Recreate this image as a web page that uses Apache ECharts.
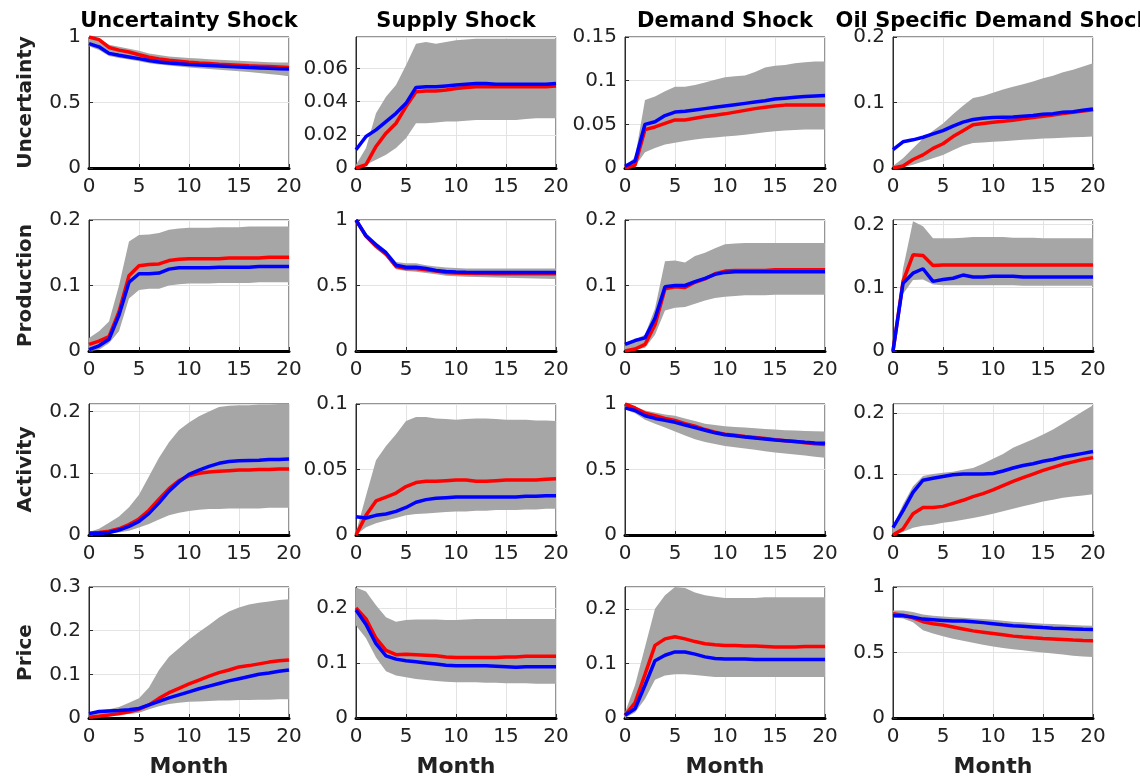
<!DOCTYPE html>
<html>
<head>
<meta charset="utf-8">
<script src="https://cdn.jsdelivr.net/npm/echarts@6/dist/echarts.min.js"></script>
<style>
  html, body { margin: 0; padding: 0; background: #fff; }
  #chart { width: 1140px; height: 782px; }
</style>
</head>
<body>
<div id="chart"></div>
<script>
// months on the x axis
const months = [0,1,2,3,4,5,6,7,8,9,10,11,12,13,14,15,16,17,18,19,20]
const shocks = ['Uncertainty Shock', 'Supply Shock', 'Demand Shock', 'Oil Specific Demand Shock']
const variables = ['Uncertainty', 'Production', 'Activity', 'Price']

// row 1: Uncertainty
const p11Red = [1.00,0.98,0.92,0.90,0.885,0.865,0.845,0.832,0.822,0.815,0.808,0.802,0.797,0.792,0.788,0.784,0.78,0.777,0.774,0.771,0.768]
const p11Blue = [0.95,0.925,0.875,0.86,0.848,0.835,0.82,0.81,0.802,0.796,0.791,0.787,0.783,0.779,0.775,0.771,0.767,0.764,0.761,0.758,0.755]
const p11Hi = [1.00,0.99,0.94,0.925,0.91,0.895,0.875,0.862,0.852,0.845,0.84,0.835,0.83,0.826,0.822,0.818,0.814,0.811,0.808,0.806,0.805]
const p11Lo = [0.93,0.90,0.855,0.84,0.828,0.815,0.80,0.79,0.782,0.775,0.768,0.762,0.756,0.75,0.744,0.738,0.732,0.726,0.718,0.71,0.70]

const p12Red = [0,0.002,0.013,0.021,0.027,0.037,0.046,0.0465,0.0465,0.047,0.048,0.0485,0.049,0.049,0.049,0.049,0.049,0.049,0.049,0.049,0.0495]
const p12Blue = [0.011,0.019,0.023,0.028,0.033,0.039,0.0486,0.049,0.049,0.0495,0.050,0.0505,0.051,0.051,0.0505,0.0505,0.0505,0.0505,0.0505,0.0505,0.051]
const p12Hi = [0.002,0.012,0.033,0.043,0.05,0.062,0.075,0.076,0.075,0.076,0.077,0.0775,0.078,0.078,0.078,0.078,0.078,0.078,0.078,0.078,0.078]
const p12Lo = [0,0.002,0.005,0.008,0.012,0.018,0.027,0.027,0.0275,0.028,0.028,0.0285,0.029,0.029,0.029,0.029,0.029,0.0295,0.03,0.03,0.03]

const p13Red = [0,0.003,0.044,0.047,0.051,0.055,0.055,0.057,0.059,0.0605,0.062,0.064,0.066,0.068,0.0695,0.071,0.072,0.072,0.072,0.072,0.072]
const p13Blue = [0.002,0.008,0.05,0.053,0.06,0.064,0.065,0.0665,0.068,0.0695,0.071,0.0725,0.074,0.0755,0.077,0.079,0.080,0.081,0.082,0.0825,0.083]
const p13Hi = [0.003,0.012,0.078,0.082,0.088,0.093,0.093,0.095,0.098,0.101,0.104,0.105,0.106,0.11,0.115,0.117,0.118,0.12,0.121,0.122,0.122]
const p13Lo = [0,0.002,0.018,0.023,0.027,0.029,0.031,0.0325,0.034,0.035,0.036,0.037,0.038,0.0395,0.041,0.042,0.043,0.0435,0.044,0.044,0.044]

const p14Red = [0,0.003,0.013,0.02,0.03,0.037,0.048,0.057,0.066,0.068,0.07,0.0715,0.073,0.075,0.077,0.079,0.081,0.083,0.085,0.087,0.089]
const p14Blue = [0.028,0.04,0.043,0.047,0.052,0.057,0.064,0.07,0.074,0.076,0.077,0.0775,0.078,0.079,0.080,0.082,0.083,0.085,0.086,0.088,0.09]
const p14Hi = [0.003,0.015,0.03,0.045,0.057,0.068,0.082,0.095,0.107,0.11,0.115,0.12,0.124,0.128,0.132,0.137,0.141,0.146,0.15,0.155,0.16]
const p14Lo = [0,0.001,0.005,0.01,0.015,0.02,0.027,0.034,0.038,0.039,0.04,0.041,0.042,0.043,0.044,0.045,0.0455,0.046,0.047,0.0475,0.048]

// row 2: Production
const p21Red = [0.01,0.015,0.022,0.06,0.115,0.13,0.132,0.133,0.138,0.14,0.141,0.141,0.141,0.141,0.142,0.142,0.142,0.142,0.143,0.143,0.143]
const p21Blue = [0.002,0.008,0.018,0.055,0.105,0.118,0.118,0.119,0.125,0.127,0.127,0.127,0.127,0.128,0.128,0.128,0.128,0.129,0.129,0.129,0.129]
const p21Hi = [0.02,0.03,0.045,0.1,0.167,0.177,0.178,0.18,0.185,0.187,0.188,0.188,0.188,0.189,0.189,0.189,0.19,0.19,0.19,0.19,0.19]
const p21Lo = [0,0.002,0.012,0.03,0.08,0.093,0.095,0.095,0.1,0.102,0.103,0.103,0.103,0.104,0.104,0.104,0.104,0.105,0.105,0.105,0.105]

const p22Red = [1.0,0.875,0.80,0.74,0.645,0.63,0.63,0.62,0.61,0.60,0.595,0.593,0.592,0.591,0.59,0.59,0.59,0.59,0.59,0.59,0.59]
const p22Blue = [1.0,0.88,0.81,0.75,0.655,0.64,0.64,0.63,0.615,0.607,0.603,0.601,0.60,0.60,0.60,0.60,0.60,0.60,0.60,0.60,0.60]
const p22Hi = [1.0,0.90,0.83,0.77,0.68,0.67,0.67,0.655,0.645,0.638,0.633,0.63,0.63,0.63,0.63,0.63,0.63,0.63,0.63,0.63,0.63]
const p22Lo = [0.98,0.86,0.78,0.72,0.625,0.61,0.605,0.595,0.585,0.575,0.57,0.567,0.565,0.563,0.561,0.559,0.557,0.555,0.553,0.551,0.55]

const p23Red = [0,0.003,0.01,0.04,0.095,0.098,0.097,0.105,0.11,0.118,0.122,0.123,0.123,0.123,0.123,0.124,0.124,0.124,0.124,0.124,0.124]
const p23Blue = [0.01,0.016,0.02,0.05,0.098,0.1,0.1,0.106,0.111,0.117,0.12,0.121,0.121,0.121,0.121,0.121,0.121,0.121,0.121,0.121,0.121]
const p23Hi = [0.01,0.018,0.025,0.065,0.137,0.138,0.135,0.145,0.15,0.157,0.163,0.164,0.165,0.165,0.165,0.165,0.165,0.165,0.165,0.165,0.165]
const p23Lo = [0,0.002,0.005,0.025,0.062,0.066,0.067,0.072,0.077,0.081,0.083,0.084,0.085,0.085,0.085,0.086,0.086,0.086,0.086,0.086,0.086]

const p24Red = [0,0.11,0.152,0.151,0.135,0.136,0.136,0.136,0.136,0.136,0.136,0.136,0.136,0.136,0.136,0.136,0.136,0.136,0.136,0.136,0.136]
const p24Blue = [0,0.107,0.123,0.13,0.11,0.113,0.115,0.12,0.117,0.117,0.118,0.118,0.118,0.117,0.117,0.117,0.117,0.117,0.117,0.117,0.117]
const p24Hi = [0,0.13,0.205,0.197,0.178,0.178,0.178,0.179,0.18,0.18,0.18,0.18,0.179,0.179,0.179,0.178,0.178,0.178,0.178,0.178,0.178]
const p24Lo = [0,0.09,0.112,0.113,0.105,0.104,0.104,0.104,0.104,0.104,0.104,0.104,0.104,0.103,0.103,0.103,0.103,0.103,0.103,0.103,0.103]

// row 3: Activity
const p31Red = [0.003,0.004,0.006,0.01,0.017,0.026,0.04,0.058,0.075,0.088,0.096,0.1,0.102,0.103,0.104,0.105,0.105,0.106,0.106,0.107,0.107]
const p31Blue = [0.003,0.003,0.004,0.008,0.014,0.022,0.035,0.052,0.071,0.086,0.098,0.105,0.111,0.116,0.119,0.12,0.1205,0.121,0.122,0.122,0.123]
const p31Hi = [0.005,0.01,0.02,0.03,0.045,0.065,0.095,0.125,0.15,0.17,0.182,0.192,0.2,0.207,0.209,0.21,0.21,0.211,0.211,0.212,0.212]
const p31Lo = [0,0.001,0.002,0.004,0.007,0.012,0.018,0.025,0.032,0.036,0.039,0.041,0.042,0.042,0.043,0.043,0.043,0.043,0.044,0.044,0.044]

const p32Red = [0,0.015,0.026,0.029,0.032,0.037,0.04,0.041,0.041,0.0415,0.042,0.042,0.041,0.041,0.0415,0.042,0.042,0.042,0.042,0.0425,0.043]
const p32Blue = [0.014,0.013,0.015,0.016,0.018,0.021,0.025,0.027,0.028,0.0285,0.029,0.029,0.029,0.029,0.029,0.029,0.029,0.0295,0.0295,0.03,0.03]
const p32Hi = [0.002,0.03,0.057,0.068,0.077,0.087,0.09,0.09,0.089,0.0885,0.088,0.0885,0.089,0.089,0.0885,0.088,0.088,0.088,0.0875,0.0875,0.087]
const p32Lo = [0,0.006,0.009,0.011,0.013,0.015,0.016,0.0165,0.017,0.0175,0.018,0.018,0.0185,0.0185,0.019,0.019,0.019,0.0195,0.0195,0.02,0.02]

const p33Red = [1.0,0.97,0.93,0.91,0.89,0.875,0.85,0.83,0.805,0.785,0.77,0.762,0.752,0.744,0.736,0.728,0.72,0.713,0.705,0.697,0.69]
const p33Blue = [0.97,0.95,0.91,0.89,0.875,0.86,0.84,0.82,0.80,0.78,0.765,0.757,0.748,0.74,0.732,0.725,0.72,0.714,0.708,0.703,0.70]
const p33Hi = [1.0,0.98,0.95,0.935,0.92,0.91,0.89,0.87,0.85,0.84,0.83,0.825,0.82,0.815,0.81,0.805,0.80,0.797,0.794,0.792,0.79]
const p33Lo = [0.96,0.93,0.88,0.85,0.82,0.79,0.76,0.73,0.71,0.695,0.68,0.67,0.66,0.65,0.64,0.63,0.622,0.615,0.607,0.598,0.59]

const p34Red = [0,0.01,0.035,0.045,0.045,0.047,0.052,0.057,0.063,0.068,0.074,0.081,0.088,0.094,0.1,0.106,0.111,0.116,0.12,0.124,0.127]
const p34Blue = [0.012,0.04,0.07,0.09,0.093,0.096,0.099,0.1,0.1,0.1,0.101,0.105,0.11,0.114,0.117,0.121,0.124,0.128,0.131,0.134,0.137]
const p34Hi = [0.015,0.05,0.08,0.097,0.1,0.102,0.104,0.107,0.11,0.117,0.125,0.133,0.143,0.15,0.157,0.165,0.173,0.183,0.193,0.203,0.213]
const p34Lo = [0,0.005,0.012,0.015,0.017,0.02,0.022,0.025,0.028,0.031,0.035,0.039,0.043,0.047,0.051,0.055,0.058,0.061,0.063,0.065,0.067]

// row 4: Price
const p41Red = [0.002,0.004,0.007,0.01,0.014,0.02,0.03,0.045,0.058,0.068,0.078,0.087,0.096,0.104,0.11,0.117,0.12,0.124,0.128,0.131,0.133]
const p41Blue = [0.01,0.015,0.016,0.017,0.019,0.022,0.03,0.038,0.046,0.053,0.06,0.067,0.073,0.079,0.085,0.09,0.095,0.1,0.103,0.107,0.11]
const p41Hi = [0.01,0.017,0.02,0.025,0.035,0.045,0.07,0.11,0.14,0.16,0.18,0.197,0.213,0.23,0.244,0.253,0.26,0.264,0.267,0.27,0.272]
const p41Lo = [0,0.002,0.004,0.006,0.009,0.012,0.02,0.027,0.032,0.035,0.037,0.038,0.039,0.04,0.04,0.041,0.041,0.042,0.042,0.043,0.043]

const p42Red = [0.2,0.18,0.145,0.123,0.115,0.116,0.115,0.114,0.113,0.111,0.11,0.11,0.11,0.11,0.11,0.111,0.111,0.112,0.112,0.112,0.112]
const p42Blue = [0.196,0.17,0.135,0.113,0.107,0.104,0.102,0.1,0.098,0.096,0.095,0.095,0.095,0.095,0.094,0.093,0.092,0.093,0.093,0.093,0.093]
const p42Hi = [0.237,0.23,0.205,0.183,0.175,0.178,0.179,0.179,0.179,0.178,0.178,0.179,0.18,0.18,0.18,0.18,0.18,0.18,0.18,0.18,0.18]
const p42Lo = [0.168,0.145,0.11,0.085,0.077,0.074,0.071,0.069,0.067,0.066,0.065,0.065,0.065,0.064,0.064,0.063,0.063,0.063,0.062,0.062,0.062]

const p43Red = [0.005,0.028,0.08,0.133,0.145,0.149,0.145,0.14,0.136,0.134,0.133,0.133,0.132,0.132,0.131,0.13,0.13,0.13,0.131,0.131,0.131]
const p43Blue = [0.005,0.017,0.06,0.105,0.115,0.121,0.121,0.117,0.112,0.109,0.108,0.108,0.108,0.107,0.107,0.107,0.107,0.107,0.107,0.107,0.107]
const p43Hi = [0.01,0.06,0.13,0.2,0.225,0.24,0.238,0.23,0.225,0.222,0.22,0.22,0.22,0.22,0.221,0.221,0.221,0.221,0.221,0.221,0.221]
const p43Lo = [0,0.01,0.035,0.07,0.078,0.08,0.08,0.079,0.077,0.075,0.075,0.075,0.075,0.075,0.075,0.075,0.075,0.075,0.075,0.075,0.075]

const p44Red = [0.795,0.785,0.765,0.735,0.72,0.71,0.695,0.68,0.665,0.655,0.645,0.635,0.625,0.618,0.612,0.607,0.603,0.599,0.595,0.592,0.59]
const p44Blue = [0.78,0.78,0.77,0.755,0.75,0.745,0.74,0.74,0.735,0.728,0.72,0.712,0.705,0.70,0.695,0.69,0.686,0.683,0.68,0.677,0.675]
const p44Hi = [0.82,0.82,0.81,0.79,0.78,0.775,0.77,0.765,0.76,0.755,0.75,0.743,0.735,0.73,0.725,0.72,0.717,0.713,0.71,0.707,0.705]
const p44Lo = [0.77,0.76,0.73,0.67,0.645,0.625,0.605,0.59,0.575,0.56,0.545,0.535,0.525,0.517,0.508,0.5,0.492,0.484,0.475,0.47,0.465]

// y axis top and tick step for each panel, row by row
const yMax = [
  1, 0.079, 0.15, 0.2,
  0.2, 1, 0.2, 0.207,
  0.212, 0.1, 1, 0.215,
  0.3, 0.238, 0.24, 1
]
const yStep = [
  0.5, 0.02, 0.05, 0.1,
  0.1, 0.5, 0.1, 0.1,
  0.1, 0.05, 0.5, 0.1,
  0.1, 0.1, 0.1, 0.5
]

const panels = [
  [p11Red, p11Blue, p11Hi, p11Lo], [p12Red, p12Blue, p12Hi, p12Lo], [p13Red, p13Blue, p13Hi, p13Lo], [p14Red, p14Blue, p14Hi, p14Lo],
  [p21Red, p21Blue, p21Hi, p21Lo], [p22Red, p22Blue, p22Hi, p22Lo], [p23Red, p23Blue, p23Hi, p23Lo], [p24Red, p24Blue, p24Hi, p24Lo],
  [p31Red, p31Blue, p31Hi, p31Lo], [p32Red, p32Blue, p32Hi, p32Lo], [p33Red, p33Blue, p33Hi, p33Lo], [p34Red, p34Blue, p34Hi, p34Lo],
  [p41Red, p41Blue, p41Hi, p41Lo], [p42Red, p42Blue, p42Hi, p42Lo], [p43Red, p43Blue, p43Hi, p43Lo], [p44Red, p44Blue, p44Hi, p44Lo]
]

const colLeft = [89, 356, 625, 893]
const rowTop = [37, 220, 404, 587]
const plotW = 200
const plotH = 131
const font = 'DejaVu Sans'

const pairs = arr => arr.map((v, i) => [months[i], v])

// gray confidence band: one polygon, upper edge then lower edge backwards
const bandRenderer = (hi, lo) => (params, api) => {
  if (params.dataIndex !== 0) return
  const pts = []
  hi.forEach((v, i) => pts.push(api.coord([months[i], v])))
  for (let i = lo.length - 1; i >= 0; i--) pts.push(api.coord([months[i], lo[i]]))
  return {
    type: 'polygon',
    shape: { points: pts },
    style: { fill: '#a6a6a6', stroke: null }
  }
}

const grid = []
const xAxis = []
const yAxis = []
const series = []

panels.forEach((p, k) => {
  const r = Math.floor(k / 4)
  const c = k % 4
  const [red, blue, hi, lo] = p
  grid.push({
    left: colLeft[c], top: rowTop[r], width: plotW, height: plotH,
    show: true, borderColor: '#2b2b2b', borderWidth: 1, backgroundColor: '#fff'
  })
  xAxis.push({
    type: 'value', gridIndex: k, min: 0, max: 20, interval: 5,
    axisLine: { show: true, onZero: false, lineStyle: { color: '#000', width: 3 } },
    axisTick: { show: true, inside: true, length: 4, lineStyle: { color: '#2b2b2b' } },
    axisLabel: { color: '#222', fontSize: 20, fontFamily: font, margin: 9 },
    splitLine: { show: true, lineStyle: { color: '#e3e3e3', width: 1 } }
  })
  const nice = Math.abs(yMax[k] / yStep[k] - Math.round(yMax[k] / yStep[k])) < 1e-6
  yAxis.push({
    type: 'value', gridIndex: k, min: 0, max: yMax[k], interval: yStep[k],
    axisLine: { show: true, lineStyle: { color: '#2b2b2b', width: 1 } },
    axisTick: { show: true, inside: true, length: 4, lineStyle: { color: '#2b2b2b' } },
    axisLabel: { color: '#222', fontSize: 20, fontFamily: font, margin: 8, showMaxLabel: nice },
    splitLine: { show: true, lineStyle: { color: '#e3e3e3', width: 1 } }
  })
  series.push({
    type: 'custom', xAxisIndex: k, yAxisIndex: k, silent: true,
    data: [[months[0], hi[0]]],
    renderItem: bandRenderer(hi, lo)
  })
  series.push({
    type: 'line', xAxisIndex: k, yAxisIndex: k, data: pairs(red),
    showSymbol: false, lineStyle: { color: '#ff0000', width: 3.5 }
  })
  series.push({
    type: 'line', xAxisIndex: k, yAxisIndex: k, data: pairs(blue),
    showSymbol: false, lineStyle: { color: '#0000ff', width: 3.5 }
  })
})

const graphic = []
shocks.forEach((s, c) => {
  graphic.push({
    type: 'text', x: colLeft[c] + plotW / 2, y: 22,
    style: { text: s, font: 'bold 21px "DejaVu Sans"', fill: '#000', align: 'center', verticalAlign: 'middle' }
  })
  graphic.push({
    type: 'text', x: colLeft[c] + plotW / 2, y: 767,
    style: { text: 'Month', font: 'bold 22px "DejaVu Sans"', fill: '#222', align: 'center', verticalAlign: 'middle' }
  })
})
variables.forEach((v, r) => {
  graphic.push({
    type: 'text', x: 26, y: rowTop[r] + plotH / 2, rotation: Math.PI / 2,
    style: { text: v, font: 'bold 20px "DejaVu Sans"', fill: '#222', align: 'center', verticalAlign: 'middle' }
  })
})

const chart = echarts.init(document.getElementById('chart'))
chart.setOption({
  animation: false,
  backgroundColor: '#fff',
  grid,
  xAxis,
  yAxis,
  series,
  graphic
})
</script>
</body>
</html>
